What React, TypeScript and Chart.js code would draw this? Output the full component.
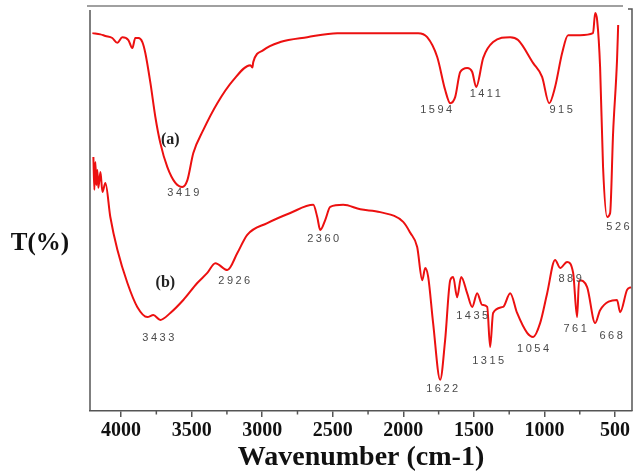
import React, { useEffect, useRef } from "react";
import { Chart, registerables } from "chart.js";

Chart.register(...registerables);

// Spectrum (a)
const waveA = [4203, 4146, 4111, 4062, 4026, 3991, 3948, 3920, 3899, 3877, 3849, 3828, 3792, 3757, 3722, 3672, 3615, 3566, 3530, 3488, 3417, 3318, 3205, 3084, 3070, 3063, 2992, 2872, 2681, 2468, 2305, 1895, 1831, 1760, 1704, 1668, 1633, 1597, 1548, 1512, 1484, 1434, 1364, 1243, 1187, 1080, 1017, 967, 925, 875, 833, 748, 656, 641, 627, 606, 585, 556, 535, 514, 486, 478];
const transA = [93.3, 93.0, 92.6, 92.1, 90.9, 92.3, 91.6, 89.6, 92.1, 92.1, 91.1, 88.4, 81.0, 72.6, 66.2, 60.2, 56.3, 55.3, 57.0, 63.7, 69.4, 76.0, 81.7, 85.4, 84.8, 86.2, 89.1, 91.1, 92.3, 93.3, 93.3, 93.3, 92.3, 87.4, 79.3, 76.0, 77.5, 83.7, 84.7, 83.7, 80.0, 87.2, 91.1, 92.3, 91.6, 85.9, 82.5, 76.0, 80.0, 88.4, 92.8, 92.8, 93.3, 98.3, 96.5, 84.9, 60.2, 47.9, 48.9, 68.6, 86.7, 95.3];

// Spectrum (b)
const waveB = [4196, 4189, 4182, 4175, 4168, 4161, 4146, 4132, 4111, 4076, 4026, 3955, 3885, 3814, 3771, 3722, 3651, 3559, 3460, 3389, 3332, 3247, 3176, 3106, 2964, 2801, 2638, 2610, 2589, 2553, 2518, 2426, 2305, 2164, 2001, 1951, 1902, 1866, 1845, 1824, 1789, 1739, 1704, 1668, 1647, 1619, 1590, 1548, 1512, 1477, 1442, 1406, 1385, 1364, 1293, 1243, 1194, 1123, 1080, 1031, 981, 925, 889, 840, 797, 769, 755, 698, 641, 606, 486, 464, 415, 387];
const transB = [62.7, 54.6, 61.5, 55.8, 59.5, 55.1, 59.0, 54.1, 56.3, 47.9, 39.8, 31.6, 25.7, 23.2, 23.7, 22.5, 24.2, 27.4, 31.6, 34.1, 36.5, 34.8, 39.0, 43.5, 46.4, 48.9, 50.9, 47.9, 44.7, 47.2, 50.4, 50.9, 49.8, 49.1, 46.7, 44.0, 40.5, 32.3, 35.3, 33.1, 21.7, 7.7, 17.5, 32.3, 33.1, 28.1, 33.1, 29.1, 25.7, 29.1, 26.2, 25.7, 15.8, 24.2, 25.7, 29.1, 24.2, 19.3, 18.3, 21.7, 29.1, 37.3, 35.3, 36.8, 34.1, 23.2, 32.3, 30.6, 21.7, 24.9, 27.4, 24.4, 29.9, 30.6];

// Axis ticks
const xTickValues = [4000, 3500, 3000, 2500, 2000, 1500, 1000, 500];
const xMinorTickValues = [3750, 3250, 2750, 2250, 1750, 1250, 750];
const xMin = 380;
const xMax = 4220;

// Peak annotations (text anchored at wavenumber / transmittance)
const peakTexts = ["3419", "1594", "1411", "915", "526", "3433", "2926", "2360", "1622", "1435", "1315", "1054", "889", "761", "668"];
const peakWaves = [3559, 1767, 1420, 882, 479, 3736, 3198, 2568, 1725, 1512, 1399, 1081, 818, 783, 528];
const peakTrans = [53.8, 74.3, 78.3, 74.3, 45.4, 18.0, 32.1, 42.5, 5.4, 23.5, 12.3, 15.3, 32.6, 20.2, 18.5];

// Series tags
const tagTexts = ["(a)", "(b)"];
const tagWaves = [3651, 3686];
const tagTrans = [66.9, 31.6];

const SERIF = '"Liberation Serif", "Times New Roman", serif';
const SANS = '"Liberation Sans", Arial, sans-serif';
const RED = "rgb(236, 16, 16)";

const decorPlugin = {
  id: "decor",
  afterDraw(chart: any) {
    const { ctx, chartArea: ca, scales } = chart;
    const xs = scales.x;
    const ys = scales.y;
    ctx.save();
    // frame
    ctx.strokeStyle = "#a0a0a0";
    ctx.lineWidth = 2;
    ctx.beginPath();
    ctx.moveTo(ca.left - 3, ca.top);
    ctx.lineTo(ca.right - 9, ca.top);
    ctx.stroke();
    ctx.strokeStyle = "#555";
    ctx.lineWidth = 1.5;
    ctx.beginPath();
    ctx.moveTo(ca.left, ca.top + 4);
    ctx.lineTo(ca.left, ca.bottom);
    ctx.stroke();
    ctx.beginPath();
    ctx.moveTo(ca.right - 4, ca.top + 3);
    ctx.lineTo(ca.right, ca.top + 3);
    ctx.lineTo(ca.right, ca.bottom);
    ctx.stroke();
    // minor ticks
    ctx.strokeStyle = "#555";
    ctx.lineWidth = 1.5;
    for (const v of xMinorTickValues) {
      const px = xs.getPixelForValue(v);
      ctx.beginPath();
      ctx.moveTo(px, ca.bottom);
      ctx.lineTo(px, ca.bottom + 3.5);
      ctx.stroke();
    }
    // peak labels
    ctx.font = `11px ${SANS}`;
    (ctx as any).letterSpacing = "2.5px";
    ctx.fillStyle = "#4a4a4a";
    ctx.textAlign = "center";
    ctx.textBaseline = "middle";
    for (let i = 0; i < peakTexts.length; i++) {
      ctx.fillText(peakTexts[i], xs.getPixelForValue(peakWaves[i]) + 1.25, ys.getPixelForValue(peakTrans[i]));
    }
    (ctx as any).letterSpacing = "0px";
    // series tags
    ctx.font = `bold 16px ${SERIF}`;
    ctx.fillStyle = "#222";
    for (let i = 0; i < tagTexts.length; i++) {
      ctx.fillText(tagTexts[i], xs.getPixelForValue(tagWaves[i]), ys.getPixelForValue(tagTrans[i]));
    }
    // y title
    ctx.font = `bold 25px ${SERIF}`;
    ctx.fillStyle = "#111";
    ctx.fillText("T(%)", 40, 244);
    ctx.restore();
  },
};

export default function App() {
  const ref = useRef<HTMLCanvasElement | null>(null);
  useEffect(() => {
    if (!ref.current) return;
    const chart = new Chart(ref.current, {
      type: "line",
      data: {
        datasets: [
          {
            label: "(a)",
            data: waveA.map((w, i) => ({ x: w, y: transA[i] })),
            borderColor: RED,
            borderWidth: 2,
            pointRadius: 0,
            cubicInterpolationMode: "monotone",
            fill: false,
          },
          {
            label: "(b)",
            data: waveB.map((w, i) => ({ x: w, y: transB[i] })),
            borderColor: RED,
            borderWidth: 2,
            pointRadius: 0,
            cubicInterpolationMode: "monotone",
            fill: false,
          },
        ],
      },
      options: {
        animation: false,
        responsive: false,
        devicePixelRatio: 1,
        layout: { padding: { left: 90, right: 3, top: 6, bottom: 0 } },
        plugins: { legend: { display: false }, tooltip: { enabled: false } },
        scales: {
          x: {
            type: "linear",
            reverse: true,
            min: xMin,
            max: xMax,
            afterBuildTicks: (s: any) => {
              s.ticks = xTickValues.map((v) => ({ value: v }));
            },
            afterFit: (s: any) => {
              s.height = 64;
            },
            ticks: {
              autoSkip: false,
              maxRotation: 0,
              padding: 2,
              color: "#111",
              font: { family: SERIF, size: 20, weight: "bold" },
              callback: (v: any) => String(v),
            },
            grid: {
              display: true,
              drawOnChartArea: false,
              drawTicks: true,
              tickLength: 6,
              tickColor: "#555",
              lineWidth: 1.5,
            },
            border: { display: true, color: "#555", width: 1.5 },
            title: {
              display: true,
              text: "Wavenumber (cm-1)",
              color: "#111",
              font: { family: SERIF, size: 28, weight: "bold" },
              padding: { top: 0, bottom: 0 },
            },
          },
          y: { display: false, min: 0, max: 100 },
        },
      },
      plugins: [decorPlugin],
    });
    return () => chart.destroy();
  }, []);
  return (
    <div style={{ position: "fixed", left: 0, top: 0, width: 635, height: 475, background: "#fff" }}>
      <canvas ref={ref} width={635} height={475} style={{ width: 635, height: 475, display: "block" }} />
    </div>
  );
}
